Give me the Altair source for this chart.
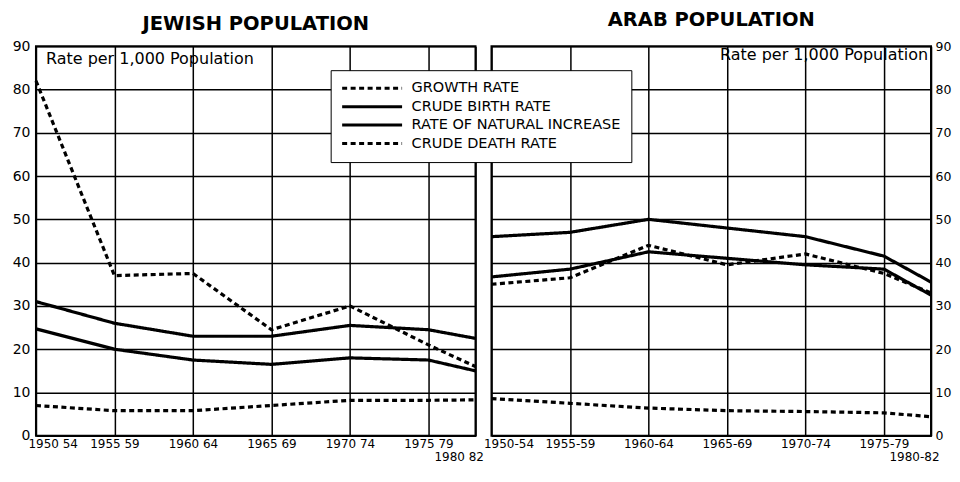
import altair as alt
import pandas as pd

FONT = "DejaVu Sans"

# ---- data ----
x_pos = [1950, 1955, 1960, 1965, 1970, 1975, 1978]
left_labels = ["1950 54", "1955 59", "1960 64", "1965 69", "1970 74", "1975 79", "1980 82"]
right_labels = ["1950-54", "1955-59", "1960-64", "1965-69", "1970-74", "1975-79", "1980-82"]

series = ["GROWTH RATE", "CRUDE BIRTH RATE", "RATE OF NATURAL INCREASE", "CRUDE DEATH RATE"]

jew_growth = [82, 37, 37.5, 24.5, 30, 21, 16]
jew_birth = [31, 26, 23, 23, 25.5, 24.5, 22.5]
jew_natural = [24.7, 20, 17.5, 16.5, 18, 17.5, 15]
jew_death = [7, 5.8, 5.8, 7, 8.2, 8.2, 8.3]

arab_growth = [35, 36.5, 44, 39.5, 42, 37.5, 33]
arab_birth = [46, 47, 50, 48, 46, 41.5, 35.5]
arab_natural = [36.7, 38.5, 42.5, 41, 39.5, 38.5, 32.5]
arab_death = [8.6, 7.5, 6.4, 5.8, 5.6, 5.3, 4.4]


def long_df(vals):
    rows = []
    for s, v in zip(series, vals):
        for x, y in zip(x_pos, v):
            rows.append({"x": x, "v": y, "series": s})
    return pd.DataFrame(rows)


def label_expr(labels):
    expr = "''"
    for i, (x, lab) in enumerate(zip(x_pos, labels)):
        if i == len(labels) - 1:
            val = "['', '%s']" % lab
        else:
            val = "'%s'" % lab
        expr = "datum.value == %d ? %s : (%s)" % (x, val, expr)
    return expr


def panel(vals, labels, title, orient, title_offset, note_align):
    df = long_df(vals)
    if orient == "left":
        yaxis = alt.Axis(orient="left", values=list(range(0, 100, 10)), title=None,
                         labelFontSize=14, labelPadding=6, minExtent=27, maxExtent=27)
    else:
        yaxis = alt.Axis(orient="right", values=list(range(0, 100, 10)), title=None,
                         labelFontSize=12.5, labelPadding=4, minExtent=16, maxExtent=16)
    lines = alt.Chart(df).mark_line(color="black", strokeWidth=3.2).encode(
        x=alt.X("x:Q", scale=alt.Scale(domain=[1950, 1978], nice=False, zero=False),
                axis=alt.Axis(values=x_pos, labelExpr=label_expr(labels), title=None,
                              labelFontSize=12, labelPadding=3, labelFlush=True,
                              labelFlushOffset=8, labelLineHeight=12.5, labelBaseline="top",
                              labelOverlap=False)),
        y=alt.Y("v:Q", scale=alt.Scale(domain=[0, 90], nice=False), axis=yaxis),
        strokeDash=alt.StrokeDash(
            "series:N",
            scale=alt.Scale(domain=series, range=[[5, 3.5], [1, 0], [1, 0], [5, 3.5]]),
            legend=alt.Legend(title=None, orient="none", legendX=295, legendY=24,
                              symbolType="stroke", symbolSize=3600, symbolStrokeWidth=3,
                              symbolStrokeColor="black", labelFontSize=14.5, labelFont=FONT,
                              labelColor="black", labelLimit=400, clipHeight=16,
                              rowPadding=2.5, labelOffset=8, padding=10,
                              strokeColor="black", fillColor="white", cornerRadius=0),
        ),
    )
    if note_align == "left":
        note = alt.Chart(pd.DataFrame({"t": ["Rate per 1,000 Population"]})).mark_text(
            align="left", baseline="middle", fontSize=16, font=FONT, color="black"
        ).encode(text="t:N", x=alt.value(10), y=alt.value(13))
    else:
        note = alt.Chart(pd.DataFrame({"t": ["Rate per 1,000 Population"]})).mark_text(
            align="right", baseline="middle", fontSize=16, font=FONT, color="black"
        ).encode(text="t:N", x=alt.value(437), y=alt.value(9))
    return alt.layer(lines, note).properties(
        width=440, height=390,
        title=alt.TitleParams(title, fontSize=19.5, fontWeight="bold", font=FONT,
                              color="black", offset=title_offset, anchor="middle",
                              frame="group"),
    )


left = panel([jew_growth, jew_birth, jew_natural, jew_death], left_labels,
             "JEWISH POPULATION", "left", 5, "left")
right = panel([arab_growth, arab_birth, arab_natural, arab_death], right_labels,
              "ARAB POPULATION", "right", 10, "right")

chart = alt.hconcat(left, right, spacing=16, bounds="flush").properties(padding=0).configure_view(
    stroke="black", strokeWidth=2
).configure_axis(
    gridColor="black", gridWidth=1.5, gridOpacity=1, domain=False, ticks=False,
    labelFont=FONT, labelColor="black"
)

chart.save("out.html", embed_options={"renderer": "svg", "actions": False})
